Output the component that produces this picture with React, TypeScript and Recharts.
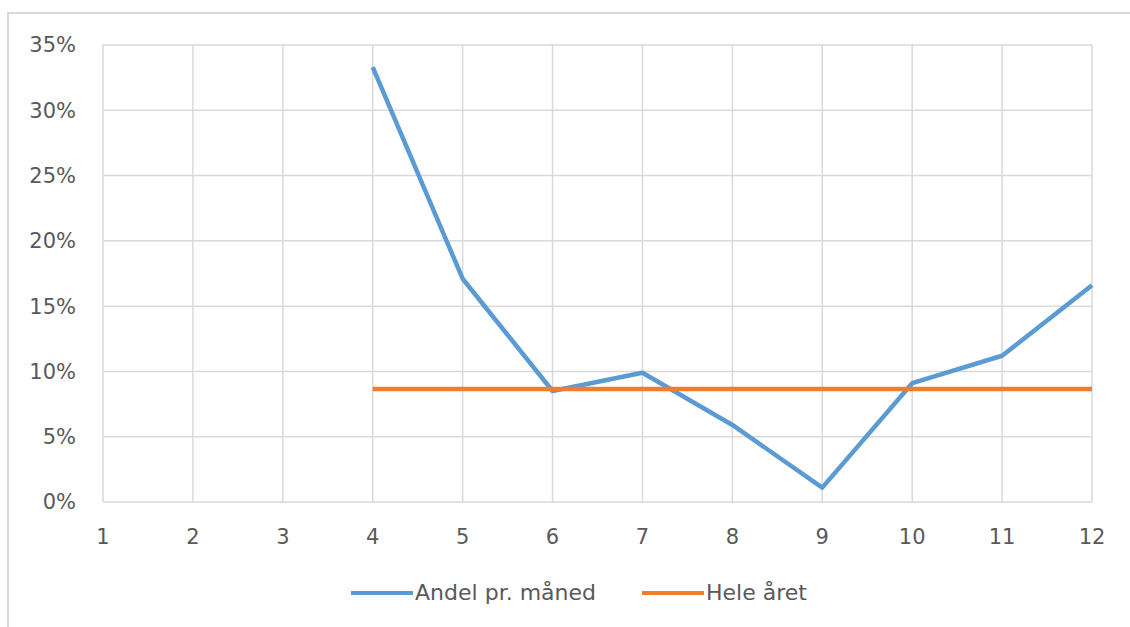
import React from "react";
import { LineChart, Line, XAxis, YAxis, CartesianGrid, Legend } from "recharts";

const months = [1, 2, 3, 4, 5, 6, 7, 8, 9, 10, 11, 12];
const andelPrManed = [null, null, null, 33.3, 17.1, 8.5, 9.9, 5.9, 1.1, 9.1, 11.2, 16.6];
const heleAret = [null, null, null, 8.65, 8.65, 8.65, 8.65, 8.65, 8.65, 8.65, 8.65, 8.65];
const yTicks = [0, 5, 10, 15, 20, 25, 30, 35];

const data = months.map((m, i) => ({
  month: m,
  andel: andelPrManed[i],
  hele: heleAret[i],
}));

const FONT = "'DejaVu Sans', 'Noto Sans', sans-serif";
const TEXT = "#595959";

const renderLegend = (props: any) => {
  const { payload } = props;
  return (
    <div style={{ display: "flex", justifyContent: "center", alignItems: "center", fontFamily: FONT, fontSize: 22, color: TEXT, paddingLeft: 28 }}>
      {payload.map((p: any, i: number) => (
        <div key={i} style={{ display: "flex", alignItems: "center", marginLeft: i === 0 ? 0 : 46 }}>
          <div style={{ width: 62, height: 4, background: p.color, marginRight: 2 }} />
          <span>{p.value}</span>
        </div>
      ))}
    </div>
  );
};

const App: React.FC = () => {
  return (
    <div style={{ position: "absolute", left: 0, top: 0, width: 1130, height: 627, background: "#fff" }}>
      <div style={{ position: "absolute", left: 7, top: 12, right: 0, bottom: 0, borderTop: "2px solid #D9D9D9", borderLeft: "2px solid #D9D9D9" }} />
      <LineChart width={1130} height={627} data={data} margin={{ top: 45, right: 38, left: 0, bottom: 0 }}>
        <CartesianGrid stroke="#D9D9D9" strokeWidth={1.5} />
        <XAxis
          dataKey="month"
          height={125}
          axisLine={false}
          tickLine={false}
          tickSize={0}
          tickMargin={27}
          interval={0}
          tick={{ fill: TEXT, fontSize: 21, fontFamily: FONT }}
        />
        <YAxis
          width={103}
          domain={[0, 35]}
          ticks={yTicks}
          axisLine={false}
          tickLine={false}
          tickSize={0}
          tickMargin={27}
          tickFormatter={(v: number) => `${v}%`}
          tick={{ fill: TEXT, fontSize: 21, fontFamily: FONT }}
        />
        <Legend verticalAlign="middle" content={renderLegend} wrapperStyle={{ top: 580, left: 0, width: 1130 }} />
        <Line name="Andel pr. måned" dataKey="andel" stroke="#5B9BD5" strokeWidth={4.5} dot={false} strokeLinejoin="round" isAnimationActive={false} />
        <Line name="Hele året" dataKey="hele" stroke="#ED7D31" strokeWidth={4.5} dot={false} isAnimationActive={false} />
      </LineChart>
    </div>
  );
};

export default App;
